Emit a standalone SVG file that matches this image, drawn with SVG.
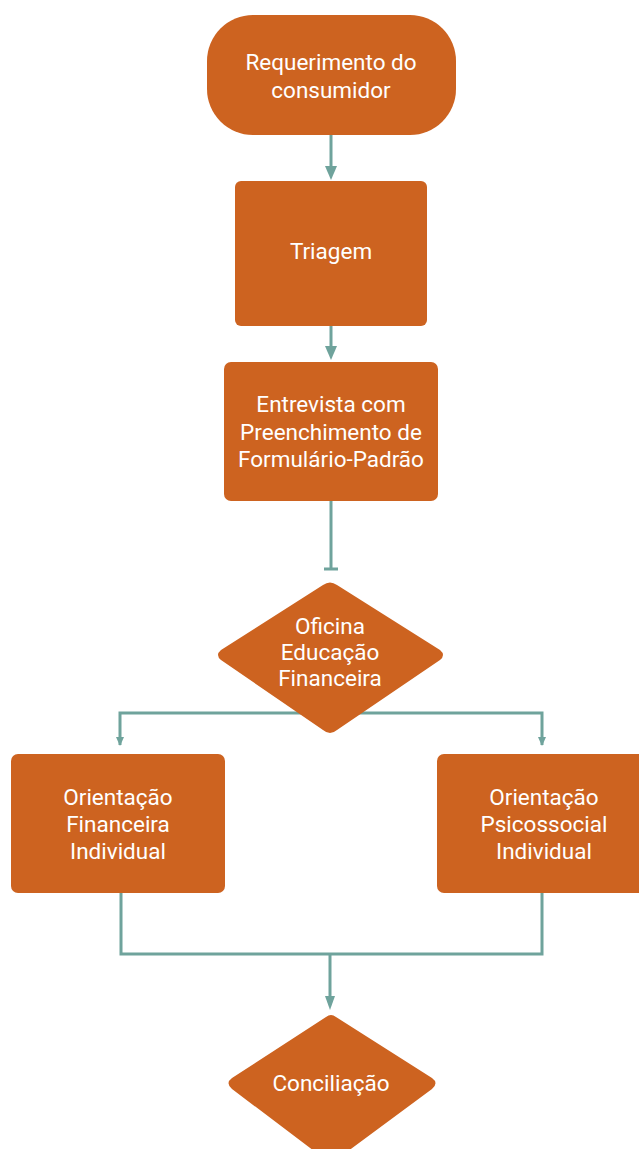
<svg xmlns="http://www.w3.org/2000/svg" width="639" height="1149" viewBox="0 0 639 1149">
<style>
.n{fill:#CD6320;}
.t{font-family:Roboto,"Liberation Sans",sans-serif;font-size:22.5px;fill:#FFFFFF;text-anchor:middle;}
.c{stroke:#6FA39C;stroke-width:3;fill:none;}
.a{fill:#6FA39C;}
</style>
<g id="connectors">
<line class="c" x1="331" y1="135" x2="331" y2="168"/>
<path class="a" d="M325,166 L337,166 L331,180 Z"/>
<line class="c" x1="331" y1="326" x2="331" y2="348"/>
<path class="a" d="M325,346 L337,346 L331,360 Z"/>
<line class="c" x1="331" y1="501" x2="331" y2="569"/>
<line class="c" x1="324" y1="569" x2="338" y2="569"/>
<path class="c" d="M120,745 L120,713 L542,713 L542,745"/>
<path class="a" d="M116,737 L124,737 L120,746 Z"/>
<path class="a" d="M538,737 L546,737 L542,746 Z"/>
<path class="c" d="M121,893 L121,954 L542,954 L542,893"/>
<line class="c" x1="330" y1="954" x2="330" y2="998"/>
<path class="a" d="M325,996 L335,996 L330,1010 Z"/>
</g>
<g id="node-requerimento">
<rect class="n" x="207" y="15" width="249" height="120" rx="46" ry="46"/>
<text class="t" x="331" y="70">Requerimento do</text>
<text class="t" x="331" y="98">consumidor</text>
</g>
<g id="node-triagem">
<rect class="n" x="235" y="181" width="192" height="145" rx="6"/>
<text class="t" x="331" y="259">Triagem</text>
</g>
<g id="node-entrevista">
<rect class="n" x="224" y="362" width="214" height="139" rx="7"/>
<text class="t" x="331" y="412">Entrevista com</text>
<text class="t" x="331" y="440">Preenchimento de</text>
<text class="t" x="331" y="467">Formulário-Padrão</text>
</g>
<g id="node-oficina">
<path class="n" d="M323,585 Q330,580 337,585 L440,650 Q446,655 440,660 L337,730 Q330,736 323,730 L221,660 Q215,655 221,650 Z"/>
<text class="t" x="330" y="634">Oficina</text>
<text class="t" x="330" y="660">Educação</text>
<text class="t" x="330" y="686">Financeira</text>
</g>
<g id="node-financeira">
<rect class="n" x="11" y="754" width="214" height="139" rx="7"/>
<text class="t" x="118" y="805">Orientação</text>
<text class="t" x="118" y="832">Financeira</text>
<text class="t" x="118" y="859">Individual</text>
</g>
<g id="node-psicossocial">
<rect class="n" x="437" y="754" width="214" height="139" rx="7"/>
<text class="t" x="544" y="805">Orientação</text>
<text class="t" x="544" y="832">Psicossocial</text>
<text class="t" x="544" y="859">Individual</text>
</g>
<g id="node-conciliacao">
<path class="n" d="M326,1017 Q331,1013 336,1017 L432,1078 Q439,1083 432,1089 L336,1160 Q331,1164 326,1160 L232,1089 Q225,1083 232,1078 Z"/>
<text class="t" x="331" y="1091">Conciliação</text>
</g>
</svg>
